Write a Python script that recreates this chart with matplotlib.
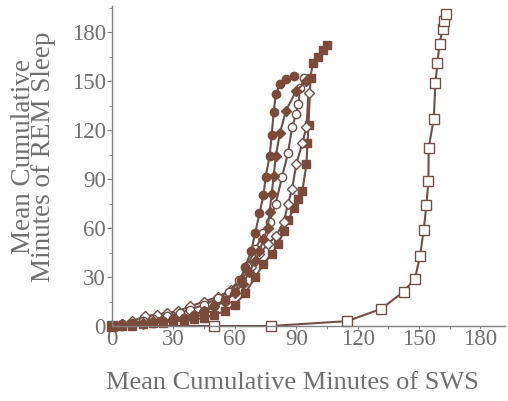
import matplotlib
matplotlib.use('Agg')
import matplotlib.pyplot as plt
from matplotlib.ticker import MultipleLocator

# filled circles
xa = [0, 5, 10, 15, 20, 25, 30, 35, 40, 45, 50, 55, 60, 63, 65, 68, 70, 72, 74, 75, 77, 78, 79, 80, 82, 85, 89]
ya = [0, 0, 1, 1, 2, 3, 4, 5, 7, 9, 12, 16, 21, 28, 36, 46, 57, 69, 80, 91, 104, 117, 131, 142, 148, 151, 153]
# filled diamonds
xb = [0, 5, 10, 15, 20, 25, 30, 35, 40, 45, 50, 55, 60, 64, 67, 70, 72, 74, 76, 77, 78, 79, 80, 82, 85, 90, 95]
yb = [0, 1, 1, 2, 3, 3, 4, 5, 7, 9, 12, 15, 20, 26, 33, 40, 46, 53, 60, 70, 81, 92, 104, 118, 132, 144, 150]
# open circles
xc = [0, 5, 10, 15, 20, 27, 33, 38, 45, 52, 57, 62, 66, 70, 74, 77, 80, 83, 86, 88, 90, 91, 92, 94]
yc = [0, 1, 2, 3, 4, 6, 8, 10, 13, 17, 21, 28, 37, 47, 57, 64, 75, 91, 106, 122, 130, 136, 146, 152]
# open diamonds
xd = [0, 5, 10, 16, 22, 27, 32, 38, 45, 52, 58, 63, 68, 72, 76, 80, 84, 86, 88, 90, 93, 95, 96]
yd = [0, 1, 3, 6, 7, 8, 9, 12, 15, 18, 22, 28, 36, 44, 50, 55, 64, 75, 84, 99, 112, 122, 143]
# filled squares
xe = [0, 5, 10, 15, 20, 25, 30, 35, 40, 45, 50, 55, 60, 65, 70, 74, 78, 81, 84, 86, 89, 91, 93, 95, 95.5, 96, 97, 98, 100.5, 103, 105]
ye = [0, 0, 0, 1, 2, 2, 3, 3, 4, 5, 7, 9, 13, 20, 30, 38, 44, 50, 58, 65, 72, 78, 83, 99, 112, 123, 152, 161, 165, 169, 172]
# open squares
xf = [0, 50, 77.5, 115, 131.5, 142.5, 148, 150.5, 152.3, 153.6, 154.6, 154.7, 157.2, 158, 159, 160, 161.5, 162, 163.4]
yf = [0, 0, 0, 3, 10.5, 21, 29, 43, 59, 74, 89, 109, 127, 149, 161, 173, 182, 187, 191]

xticks = [0, 30, 60, 90, 120, 150, 180]
yticks = [0, 30, 60, 90, 120, 150, 180]

brown = '#7a4a3a'
line = '#6e5048'
grey = '#707070'

plt.rcParams['font.family'] = ['Liberation Serif', 'DejaVu Serif']

fig = plt.figure(figsize=(5.08, 4.01), dpi=100)
ax = fig.add_axes([0.2205, 0.187, 0.7736, 0.798])

kw = dict(color=line, lw=1.5, clip_on=False)
ax.plot(xf, yf, marker='s', ms=7, mfc='white', mec=line, mew=1.0, **kw)
ax.plot(xe, ye, marker='s', ms=6, mfc=brown, mec=brown, **kw)
ax.plot(xd, yd, marker='D', ms=5, mfc='white', mec=line, mew=1.0, **kw)
ax.plot(xc, yc, marker='o', ms=6, mfc='white', mec=line, mew=1.0, **kw)
ax.plot(xb, yb, marker='D', ms=5.5, mfc=brown, mec=brown, **kw)
ax.plot(xa, ya, marker='o', ms=6, mfc=brown, mec=brown, **kw)

ax.set_xlim(0, 192)
ax.set_ylim(0, 196)
ax.set_xticks(xticks)
ax.set_yticks(yticks)
ax.xaxis.set_minor_locator(MultipleLocator(15))
ax.yaxis.set_minor_locator(MultipleLocator(15))

for s in ['top', 'right']:
    ax.spines[s].set_visible(False)
for s in ['left', 'bottom']:
    ax.spines[s].set_color('#808080')
    ax.spines[s].set_linewidth(1.0)

ax.tick_params(which='major', direction='out', length=3.5, width=0.8, color='#808080',
               labelsize=16.5, labelcolor=grey, pad=1)
ax.tick_params(axis='x', which='major', length=2.5, pad=0)
ax.tick_params(which='minor', direction='out', length=2, width=0.8, color='#909090')

ax.set_xlabel('Mean Cumulative Minutes of SWS', fontsize=19, color=grey)
ax.set_ylabel('Mean Cumulative\nMinutes of REM Sleep', fontsize=19.5, color=grey, linespacing=0.75)
ax.xaxis.set_label_coords(0.458, -0.144)
ax.yaxis.set_label_coords(-0.142, 0.530)

fig.savefig('out.png', dpi=100)
